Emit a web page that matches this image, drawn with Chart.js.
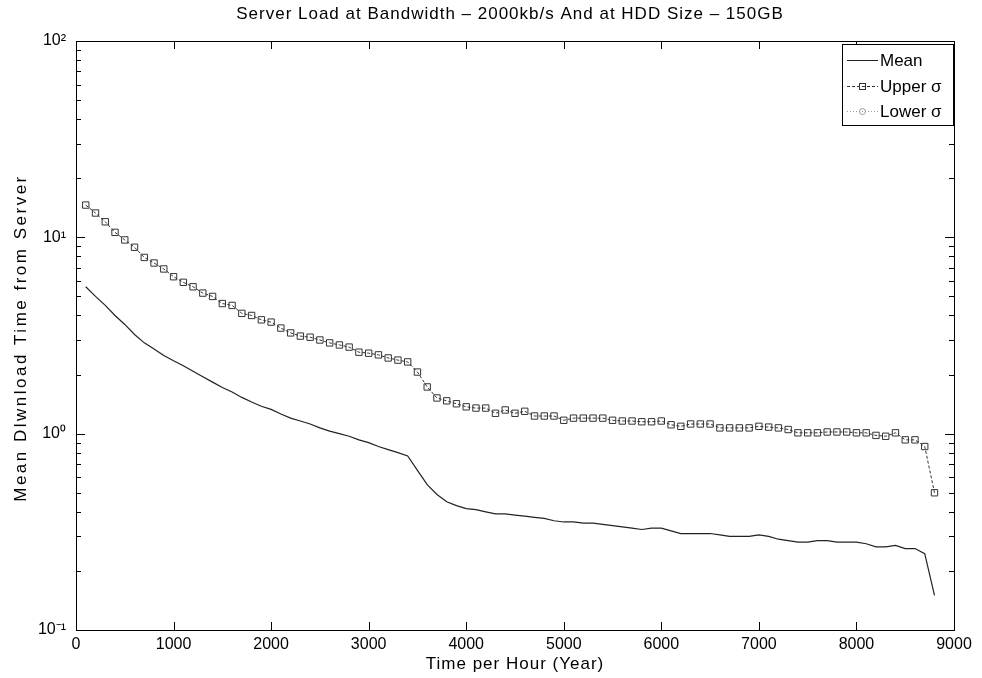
<!DOCTYPE html>
<html>
<head>
<meta charset="utf-8">
<script src="https://cdn.jsdelivr.net/npm/chart.js@4/dist/chart.umd.min.js"></script>
<style>
  html, body { margin: 0; padding: 0; background: #fff; }
</style>
</head>
<body>
<canvas id="chart" width="982" height="678"></canvas>
<script>
// hours on the x axis (one sample every 100 h)
const hours = [
  100, 200, 300, 400, 500, 600, 700, 800, 900, 1000,
  1100, 1200, 1300, 1400, 1500, 1600, 1700, 1800, 1900, 2000,
  2100, 2200, 2300, 2400, 2500, 2600, 2700, 2800, 2900, 3000,
  3100, 3200, 3300, 3400, 3500, 3600, 3700, 3800, 3900, 4000,
  4100, 4200, 4300, 4400, 4500, 4600, 4700, 4800, 4900, 5000,
  5100, 5200, 5300, 5400, 5500, 5600, 5700, 5800, 5900, 6000,
  6100, 6200, 6300, 6400, 6500, 6600, 6700, 6800, 6900, 7000,
  7100, 7200, 7300, 7400, 7500, 7600, 7700, 7800, 7900, 8000,
  8100, 8200, 8300, 8400, 8500, 8600, 8700, 8800
];

const meanValues = [
  5.6, 5.0, 4.5, 4.0, 3.6, 3.2, 2.9, 2.7, 2.5, 2.35,
  2.22, 2.08, 1.95, 1.83, 1.72, 1.63, 1.53, 1.45, 1.38, 1.33,
  1.26, 1.20, 1.16, 1.12, 1.07, 1.03, 1.00, 0.97, 0.93, 0.90,
  0.86, 0.83, 0.80, 0.77, 0.65, 0.55, 0.49, 0.45, 0.43, 0.415,
  0.41, 0.40, 0.39, 0.39, 0.385, 0.38, 0.375, 0.37, 0.36, 0.355,
  0.355, 0.35, 0.35, 0.345, 0.34, 0.335, 0.33, 0.325, 0.33, 0.33,
  0.32, 0.31, 0.31, 0.31, 0.31, 0.305, 0.30, 0.30, 0.30, 0.305,
  0.30, 0.29, 0.285, 0.28, 0.28, 0.285, 0.285, 0.28, 0.28, 0.28,
  0.275, 0.265, 0.265, 0.27, 0.26, 0.26, 0.245, 0.15
];

const upperValues = [
  14.6, 13.3, 12.0, 10.6, 9.7, 8.9, 7.9, 7.4, 6.9, 6.3,
  5.9, 5.6, 5.2, 5.0, 4.6, 4.5, 4.1, 4.0, 3.8, 3.7,
  3.45, 3.26, 3.14, 3.1, 3.0, 2.9, 2.83, 2.76, 2.6, 2.57,
  2.52, 2.43, 2.37, 2.32, 2.06, 1.73, 1.52, 1.47, 1.42, 1.37,
  1.35, 1.35, 1.27, 1.32, 1.27, 1.30, 1.23, 1.23, 1.23, 1.17,
  1.20, 1.20, 1.20, 1.20, 1.17, 1.16, 1.16, 1.15, 1.15, 1.16,
  1.11, 1.09, 1.12, 1.12, 1.12, 1.07, 1.07, 1.07, 1.07, 1.09,
  1.08, 1.07, 1.05, 1.01, 1.01, 1.01, 1.02, 1.02, 1.02, 1.01,
  1.01, 0.98, 0.97, 1.01, 0.93, 0.93, 0.86, 0.50
];

// mean - sigma goes below zero, so nothing shows on the log axis (legend only)
const lowerValues = [];

const xTicks = [0, 1000, 2000, 3000, 4000, 5000, 6000, 7000, 8000, 9000];
const yDecades = [0.1, 1, 10, 100];
const yTickLabels = ['10\u207B\u00B9', '10\u2070', '10\u00B9', '10\u00B2'];

const FONT = '"Liberation Sans", Arial, sans-serif';
const toPoints = vals => vals.map((v, i) => ({ x: hours[i], y: v }));

// matlab style box with inward ticks, titles and legend
const matlabFrame = {
  id: 'matlabFrame',
  afterDatasetsDraw(chart) {
    const { ctx, chartArea: a, scales: { x, y } } = chart;
    ctx.save();
    ctx.strokeStyle = '#000';
    ctx.lineWidth = 1;
    ctx.strokeRect(a.left + 0.5, a.top + 0.5, a.right - a.left, a.bottom - a.top);

    ctx.beginPath();
    xTicks.forEach(v => {
      const px = Math.round(x.getPixelForValue(v)) + 0.5;
      ctx.moveTo(px, a.bottom); ctx.lineTo(px, a.bottom - 8);
      ctx.moveTo(px, a.top); ctx.lineTo(px, a.top + 8);
    });
    yDecades.forEach(d => {
      for (let k = 1; k <= 9; k++) {
        const v = d * k;
        if (v > 100) break;
        const py = Math.round(y.getPixelForValue(v)) + 0.5;
        const len = k === 1 ? 9 : 5;
        ctx.moveTo(a.left, py); ctx.lineTo(a.left + len, py);
        ctx.moveTo(a.right, py); ctx.lineTo(a.right - len, py);
      }
    });
    ctx.stroke();

    // titles
    ctx.fillStyle = '#000';
    ctx.font = '17px ' + FONT;
    ctx.textAlign = 'center';
    ctx.textBaseline = 'middle';
    ctx.letterSpacing = '1px';
    ctx.fillText('Server Load at Bandwidth \u2013 2000kb/s And at HDD Size \u2013 150GB', 510, 14);
    ctx.fillText('Time per Hour (Year)', 515, 664);
    ctx.save();
    ctx.translate(21, 338);
    ctx.rotate(-Math.PI / 2);
    ctx.letterSpacing = '2.5px';
    ctx.fillText('Mean Dlwnload Time from Server', 0, 0);
    ctx.restore();

    // legend
    const bx = 842, by = 44, bw = 111, bh = 81;
    ctx.fillStyle = '#fff';
    ctx.fillRect(bx, by, bw, bh);
    ctx.strokeRect(bx + 0.5, by + 0.5, bw, bh);
    ctx.letterSpacing = '0px';
    const rows = [
      { label: 'Mean', ds: 0, y: 60 },
      { label: 'Upper \u03C3', ds: 1, y: 86 },
      { label: 'Lower \u03C3', ds: 2, y: 111 }
    ];
    rows.forEach(r => {
      const ds = chart.data.datasets[r.ds];
      ctx.strokeStyle = ds.borderColor;
      ctx.setLineDash(ds.borderDash || []);
      ctx.beginPath();
      ctx.moveTo(847, r.y + 0.5); ctx.lineTo(878, r.y + 0.5);
      ctx.stroke();
      ctx.setLineDash([]);
      if (ds.pointStyle === 'rect') {
        ctx.strokeRect(859.5, r.y - 2.5, 6, 6);
      } else if (ds.pointStyle === 'circle') {
        ctx.beginPath(); ctx.arc(862.5, r.y + 0.5, 3, 0, Math.PI * 2); ctx.stroke();
      }
      ctx.fillStyle = '#000';
      ctx.textAlign = 'left';
      ctx.fillText(r.label, 880, r.y + 1);
    });
    ctx.restore();
  }
};

new Chart(document.getElementById('chart').getContext('2d'), {
  type: 'line',
  data: {
    datasets: [
      {
        label: 'Mean',
        data: toPoints(meanValues),
        borderColor: '#222',
        borderWidth: 1.2,
        pointRadius: 0,
        tension: 0
      },
      {
        label: 'Upper \u03C3',
        data: toPoints(upperValues),
        borderColor: '#333',
        borderWidth: 1,
        borderDash: [3, 2],
        pointStyle: 'rect',
        pointRadius: 4.5,
        pointBorderWidth: 1,
        pointBackgroundColor: 'rgba(0,0,0,0)',
        pointBorderColor: '#333',
        tension: 0
      },
      {
        label: 'Lower \u03C3',
        data: toPoints(lowerValues),
        borderColor: '#999',
        borderWidth: 1,
        borderDash: [1, 2],
        pointStyle: 'circle',
        pointRadius: 3,
        tension: 0
      }
    ]
  },
  options: {
    responsive: false,
    animation: false,
    layout: { padding: { top: 41, right: 28, left: 0, bottom: 0 } },
    plugins: {
      legend: { display: false },
      tooltip: { enabled: false },
      title: { display: false }
    },
    scales: {
      x: {
        type: 'linear',
        min: 0,
        max: 9000,
        afterBuildTicks: s => { s.ticks = xTicks.map(v => ({ value: v })); },
        afterFit: s => { s.height = 48; },
        grid: { display: false, drawTicks: false },
        border: { display: false },
        ticks: {
          color: '#000',
          font: { family: FONT, size: 16 },
          padding: 5,
          maxRotation: 0,
          callback: v => String(v)
        }
      },
      y: {
        type: 'logarithmic',
        min: 0.1,
        max: 100,
        afterBuildTicks: s => { s.ticks = yDecades.map(v => ({ value: v })); },
        afterFit: s => { s.width = 76; },
        grid: { display: false, drawTicks: false },
        border: { display: false },
        ticks: {
          color: '#000',
          font: { family: FONT, size: 16 },
          padding: 10,
          autoSkip: false,
          callback: v => {
            const i = yDecades.findIndex(d => Math.abs(d - v) < d * 1e-6);
            return i >= 0 ? yTickLabels[i] : '';
          }
        }
      }
    }
  },
  plugins: [matlabFrame]
});
</script>
</body>
</html>
